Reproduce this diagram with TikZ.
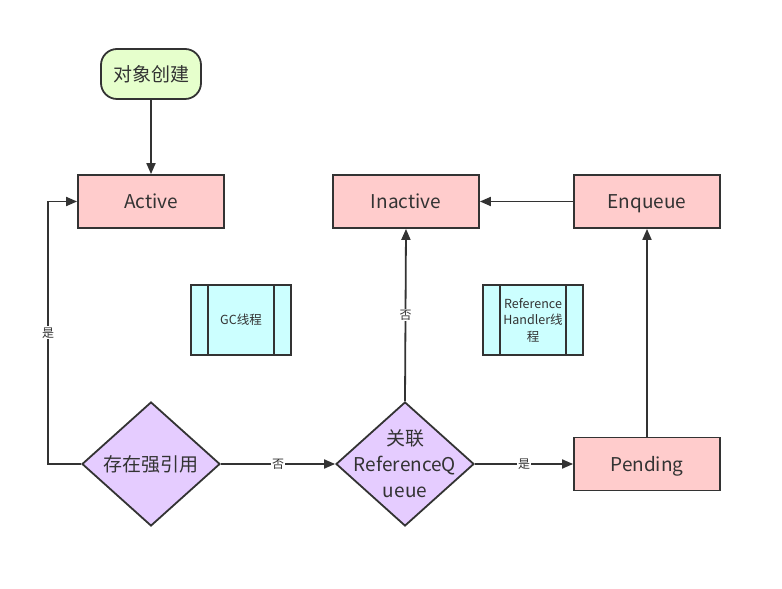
\documentclass[tikz,border=0pt]{standalone}
\usepackage{fontspec}
\setmainfont{Noto Sans CJK SC}
\usetikzlibrary{arrows.meta,shapes.geometric}
\definecolor{linec}{HTML}{333333}
\definecolor{startc}{HTML}{E6FFCC}
\definecolor{statec}{HTML}{FFCCCC}
\definecolor{threadc}{HTML}{CCFFFF}
\definecolor{decidec}{HTML}{E5CCFF}
\tikzset{
  box/.style={draw=linec, line width=1.8pt, text=linec, font=\fontsize{19}{23}\selectfont},
  statebox/.style={box, fill=statec, minimum width=146pt, minimum height=53pt, text height=16pt, text depth=1pt},
  startbox/.style={box, fill=startc, rounded corners=16pt, minimum width=100pt, minimum height=50pt},
  threadbox/.style={box, fill=threadc, minimum width=100pt, minimum height=70pt, inner sep=0pt,
    align=center, font=\fontsize{12.5}{16.5}\selectfont,
    path picture={
      \draw[linec, line width=1.2pt] ([xshift=17pt]path picture bounding box.north west) -- ([xshift=17pt]path picture bounding box.south west);
      \draw[linec, line width=1.2pt] ([xshift=-17pt]path picture bounding box.north east) -- ([xshift=-17pt]path picture bounding box.south east);
    }},
  decide/.style={box, diamond, fill=decidec, minimum width=138pt, minimum height=124pt, inner sep=0pt},
  arr/.style={draw=linec, line width=1.8pt, -{Triangle[length=11pt,width=9pt]}},
  lab/.style={fill=white, text=linec, inner sep=1pt, font=\fontsize{12}{14}\selectfont}
}
\begin{document}
\begin{tikzpicture}[x=1pt,y=1pt]
\useasboundingbox (0,0) rectangle (782,589);

 \node[startbox] (create) at (151,515) {对象创建};
 \node[statebox] (active) at (151,387.5) {Active};
 \node[statebox] (inactive) at (406,387.5) {Inactive};
 \node[statebox] (enqueue) at (647,387.5) {Enqueue};
 \node[statebox] (pending) at (647,125) {Pending};

 \node[threadbox] (gc) at (241,269) {GC线程};
 \node[threadbox] (handler) at (533,269) {Reference\\Handler线\\程};

 \node[decide] (strong) at (151,125) {};
 \node[text=linec, font=\fontsize{19}{23}\selectfont] (strongtxt) at (strong.center) {存在强引用};
 \node[decide] (queue) at (405,125) {};
 \node[text=linec, align=center, font=\fontsize{19}{26}\selectfont] (queuetxt) at (queue.center) {关联\\ReferenceQ\\ueue};

 \coordinate (bend) at (48,125);

 \draw[arr] (create) -- (active);
 \draw[arr] (strong.west) -- (bend) |- node[lab, pos=0.25]{是} (active.west);
 \draw[arr] (strong.east) -- node[lab]{否} (queue.west);
 \draw[arr] (queue.north) -- node[lab, pos=0.5]{否} (inactive.south);
 \draw[arr] (queue.east) -- node[lab]{是} (pending.west);
 \draw[arr] (pending) -- (enqueue);
 \draw[arr] (enqueue) -- (inactive);
\end{tikzpicture}
\end{document}
